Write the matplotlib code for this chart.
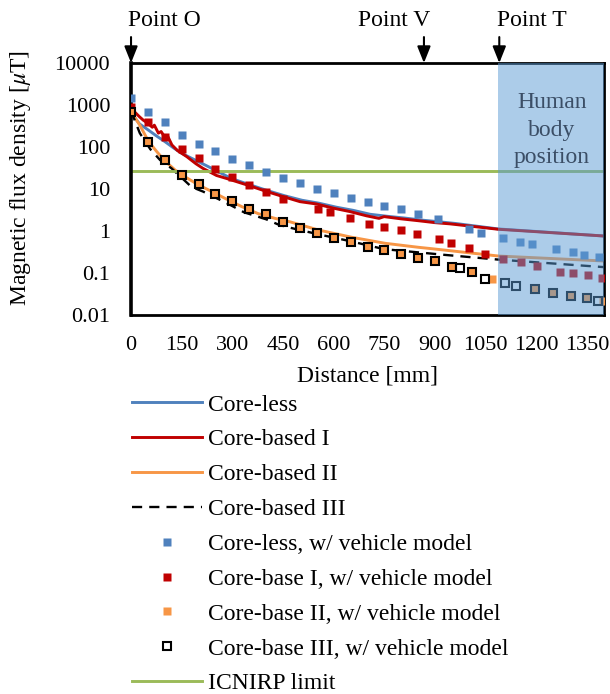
import matplotlib
matplotlib.use("Agg")
import matplotlib.pyplot as plt
from matplotlib.ticker import NullLocator

plt.rcParams['font.family'] = ['Liberation Serif', 'DejaVu Serif']
plt.rcParams['mathtext.fontset'] = 'stix'

# simulated field along the path (no vehicle)
dist_coreless = [0, 25, 52, 76, 100, 126, 150, 177, 199, 239, 297, 344, 405, 455, 506, 556,
                 607, 658, 708, 759, 809, 860, 911, 961, 1087, 1400]
b_coreless = [661, 355, 251, 182, 135, 95, 71, 55, 45, 31, 17.8, 13.2, 9.1, 6.9, 5.4, 4.6,
              3.7, 3.1, 2.5, 2.24, 2.04, 1.82, 1.66, 1.51, 1.12, 0.76]

dist_core1 = [0, 15, 25, 36, 51, 63, 69, 81, 89, 101, 109, 121, 137, 165, 192, 213, 253, 283,
              342, 402, 450, 500, 549, 599, 648, 697, 734, 749, 799, 850, 900, 944, 1087, 1400]
b_core1 = [832, 631, 525, 437, 363, 295, 331, 214, 234, 166, 178, 112, 83, 59, 40, 31, 21, 17.8,
           12.6, 8.7, 6.6, 5.0, 4.4, 3.5, 2.9, 2.3, 2.0, 2.2, 1.95, 1.76, 1.58, 1.48, 1.10, 0.76]

dist_core2 = [0, 26, 52, 76, 100, 131, 160, 199, 239, 278, 328, 376, 426, 470, 554, 653, 752,
              850, 889, 944, 1087, 1400]
b_core2 = [692, 331, 135, 78, 47, 28, 19.5, 12.6, 8.7, 6.0, 3.8, 2.6, 2.0, 1.66, 1.06, 0.71, 0.51,
           0.41, 0.38, 0.34, 0.254, 0.193]

dist_core3 = [0, 26, 57, 86, 120, 179, 213, 249, 293, 334, 400, 440, 486, 556, 648, 749, 929,
              1083, 1400]
b_core3 = [724, 214, 89, 49, 31, 11.2, 8.7, 6.3, 4.2, 2.8, 1.9, 1.38, 1.12, 0.83, 0.575, 0.37, 0.27,
           0.21, 0.138]

# simulated field with the vehicle model
dist_coreless_v = [0, 50, 100, 150, 200, 250, 300, 350, 400, 450, 500, 550, 600, 650, 700, 750,
                   800, 850, 909, 1000, 1037, 1102, 1150, 1186, 1257, 1308, 1341, 1384]
b_coreless_v = [1440, 680, 390, 190, 117, 80, 51, 37, 25, 18, 13.7, 9.8, 7.9, 6.0, 4.8, 3.9,
                3.3, 2.6, 1.9, 1.12, 0.88, 0.67, 0.56, 0.49, 0.37, 0.31, 0.27, 0.24]

dist_core1_v = [0, 50, 100, 150, 200, 250, 300, 350, 400, 450, 552, 589, 648, 703, 749, 800, 846,
                911, 946, 1000, 1049, 1102, 1153, 1203, 1269, 1307, 1353, 1393]
b_core1_v = [900, 388, 170, 88, 56, 30, 19.4, 12.4, 8.6, 5.7, 3.3, 2.8, 2.0, 1.5, 1.27, 1.06, 0.83,
             0.63, 0.51, 0.39, 0.29, 0.22, 0.18, 0.15, 0.107, 0.10, 0.09, 0.075]

dist_core2_v = [0, 50, 100, 150, 200, 250, 300, 350, 400, 450, 500, 550, 600, 650, 700, 750, 800,
                850, 900, 950, 1008, 1067, 1195, 1248, 1302, 1350, 1398]
b_core2_v = [690, 129, 49, 21.6, 13, 7.8, 5.2, 3.3, 2.5, 1.66, 1.16, 0.88, 0.67, 0.54, 0.42, 0.35,
             0.28, 0.23, 0.19, 0.14, 0.107, 0.074, 0.041, 0.034, 0.028, 0.025, 0.022]

dist_core3_v = [0, 50, 100, 150, 200, 250, 300, 350, 400, 450, 500, 550, 600, 650, 700, 750, 800,
                850, 900, 950, 975, 1008, 1047, 1107, 1139, 1195, 1248, 1302, 1350, 1382]
b_core3_v = [690, 129, 49, 21.6, 13, 7.8, 5.2, 3.3, 2.5, 1.66, 1.16, 0.88, 0.67, 0.54, 0.42, 0.35,
             0.28, 0.23, 0.19, 0.14, 0.13, 0.107, 0.072, 0.059, 0.050, 0.041, 0.034, 0.028, 0.025,
             0.022]

icnirp_limit = 27  # uT
x_ticks = [0, 150, 300, 450, 600, 750, 900, 1050, 1200, 1350]
y_ticks = [0.01, 0.1, 1, 10, 100, 1000, 10000]
y_ticklabels = ['0.01', '0.1', '1', '10', '100', '1000', '10000']
# name, arrow position, label centre [mm]
points = [('Point O', 0, 98), ('Point V', 867, 778), ('Point T', 1090, 1186)]
body_start = 1085
x_max = 1400

c_blue = '#4F81BD'
c_red = '#C00000'
c_orange = '#F79646'
c_green = '#9BBB59'

fig = plt.figure(figsize=(6.1, 6.94), dpi=100)
ax = fig.add_axes([0.2148, 0.5461, 0.7754, 0.3631])

ax.plot(dist_coreless, b_coreless, color=c_blue, lw=2.1, label='Core-less', zorder=2)
ax.plot(dist_core1, b_core1, color=c_red, lw=2.1, label='Core-based I', zorder=2)
ax.plot(dist_core2, b_core2, color=c_orange, lw=2.1, label='Core-based II', zorder=2)
ax.plot(dist_core3, b_core3, color='black', lw=1.7, dashes=(4.3, 3), label='Core-based III', zorder=2)

ax.plot(dist_coreless_v, b_coreless_v, ls='', marker='s', ms=6.1, mec='none', color=c_blue,
        label='Core-less, w/ vehicle model', zorder=3)
ax.plot(dist_core1_v, b_core1_v, ls='', marker='s', ms=6.1, mec='none', color=c_red,
        label='Core-base I, w/ vehicle model', zorder=3)
ax.plot(dist_core2_v, b_core2_v, ls='', marker='s', ms=6.1, mec='none', color=c_orange,
        label='Core-base II, w/ vehicle model', zorder=3)
ax.plot(dist_core3_v, b_core3_v, ls='', marker='s', ms=6.2, mfc='none', mec='black', mew=1.5,
        label='Core-base III, w/ vehicle model', zorder=3)

ax.axhline(icnirp_limit, color=c_green, lw=2.1, label='ICNIRP limit', zorder=2)

# shaded region where the body sits
ax.axvspan(body_start, x_max, color='#5B9BD5', alpha=0.5, lw=0, zorder=5)
ax.text(1245, 0.734, 'Human\nbody\nposition', transform=ax.get_xaxis_transform(),
        ha='center', va='center', fontsize=17, color='#3B4E66', linespacing=1.42, zorder=6)

ax.set_yscale('log')
ax.set_xlim(0, x_max)
ax.set_ylim(0.01, 10000)
ax.set_xticks(x_ticks)
ax.set_yticks(y_ticks)
ax.set_yticklabels(y_ticklabels)
ax.yaxis.set_minor_locator(NullLocator())
ax.tick_params(length=0, labelsize=16)
ax.tick_params(axis='y', pad=15)
ax.tick_params(axis='x', pad=15)
for s in ax.spines.values():
    s.set_linewidth(2)
ax.spines['left'].set_linewidth(2.6)

ax.set_xlabel('Distance [mm]', fontsize=17, labelpad=8)
fig.text(21 / 610, 1 - 178 / 694, 'Magnetic flux density [$\\mu$T]', rotation=90,
         ha='center', va='center', fontsize=17)

# arrows marking the reference points
for name, xp, xt in points:
    ax.annotate('', xy=(xp, 1.0), xycoords=('data', 'axes fraction'),
                xytext=(xp, 1.103), textcoords=('data', 'axes fraction'),
                arrowprops=dict(arrowstyle='-|>,head_length=1.0,head_width=0.4', color='black',
                                lw=1.5, shrinkA=0, shrinkB=0, mutation_scale=10))
    ax.text(xt, 1.17, name, transform=ax.get_xaxis_transform(), ha='center', va='center',
            fontsize=17, clip_on=False)

fig.legend(loc='upper left', bbox_to_anchor=(132 / 610, 1 - 394 / 694), frameon=False,
           fontsize=17, handlelength=2.97, handletextpad=0.24, labelspacing=0.565,
           numpoints=1, borderaxespad=0, borderpad=0)

fig.savefig('out.png', dpi=100)
